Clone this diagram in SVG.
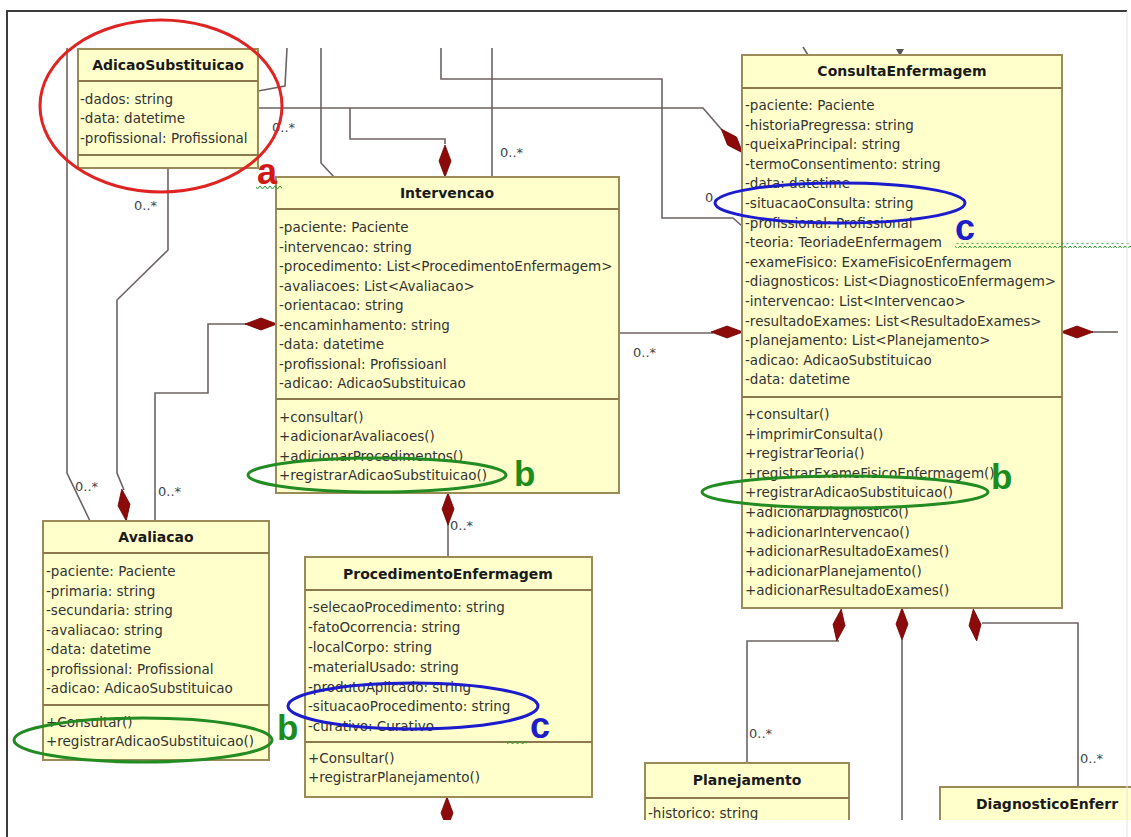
<svg xmlns="http://www.w3.org/2000/svg" width="1131" height="837" viewBox="0 0 1131 837">
<style>
.box{fill:#ffffcc;stroke:#9c8a58;stroke-width:2}
.sep{stroke:#8c7a4c;stroke-width:2}
.t{font-family:"DejaVu Sans",sans-serif;font-size:13.5px;fill:#333}
.h{font-family:"DejaVu Sans",sans-serif;font-weight:bold;font-size:14px;fill:#1a1a1a;text-anchor:middle}
.ln{fill:none;stroke:#6e6262;stroke-width:1.6}
.dm{fill:#8c0a0a;stroke:#700000;stroke-width:0.8}
.m{font-family:"DejaVu Sans",sans-serif;font-size:13px;fill:#444}
.gE{fill:none;stroke:#228b22;stroke-width:3}
.bE{fill:none;stroke:#1c1ccc;stroke-width:3}
.lg{font-family:"Liberation Sans",Arial,sans-serif;font-weight:bold;font-size:35px;fill:#1c8c1c}
.lb{font-family:"Liberation Sans",Arial,sans-serif;font-weight:bold;font-size:36px;fill:#1c1cc8}
</style>
<defs>
<path id="dv" d="M0,-16 L6,0 L0,16 L-6,0 Z"/>
<clipPath id="cp"><rect x="8" y="12" width="1123" height="808"/></clipPath>
<pattern id="sq" width="5" height="5" patternUnits="userSpaceOnUse"><path d="M0,1 L2.5,4 L5,1" fill="none" stroke="#2a9a2a" stroke-width="1"/></pattern>
</defs>
<rect x="0" y="0" width="1131" height="837" fill="#ffffff"/>
<g clip-path="url(#cp)">
<g id="connectors">
<polyline class="ln" points="258,91 285,86 287,48"/>
<polyline class="ln" points="321,48 321,163 334,177"/>
<polyline class="ln" points="258,108 703,108 722,130"/>
<polyline class="ln" points="350,108 350,139 445,139 445,144"/>
<polyline class="ln" points="441,48 441,79 662,79 662,218 733,218 742,226"/>
<polyline class="ln" points="492,48 492,177"/>
<polyline class="ln" points="67,48 67,473 90,521"/>
<polyline class="ln" points="168,168 168,250 117,300 117,473 124,490"/>
<polyline class="ln" points="247,324 208,324 208,393 155,393 155,521"/>
<polyline class="ln" points="619,333 713,333"/>
<polyline class="ln" points="1092,332 1118,332"/>
<polyline class="ln" points="839,641 747,641 747,763"/>
<polyline class="ln" points="902,640 902,820"/>
<polyline class="ln" points="982,623 1078,623 1078,787"/>
<polyline class="ln" points="448,522 448,557"/>
<polyline class="ln" points="447,797 447,837"/>
<polyline class="ln" points="803,47 808,55"/>
<path d="M896,49 L904,49 L900,56 Z" fill="#555"/>
<use href="#dv" class="dm" transform="translate(445,161)"/>
<use href="#dv" class="dm" transform="translate(261,324) rotate(90)"/>
<use href="#dv" class="dm" transform="translate(732,141) rotate(-42)"/>
<use href="#dv" class="dm" transform="translate(727,332) rotate(90)"/>
<use href="#dv" class="dm" transform="translate(1077,332) rotate(90)"/>
<use href="#dv" class="dm" transform="translate(839,625) rotate(8)"/>
<use href="#dv" class="dm" transform="translate(902,624)"/>
<use href="#dv" class="dm" transform="translate(975,625) rotate(-6)"/>
<use href="#dv" class="dm" transform="translate(124,505) rotate(-8)"/>
<use href="#dv" class="dm" transform="translate(448,509)"/>
<use href="#dv" class="dm" transform="translate(447,813)"/>
<text class="m" x="272" y="132">0..*</text>
<text class="m" x="500" y="157">0..*</text>
<text class="m" x="134" y="210">0..*</text>
<text class="m" x="75" y="491">0..*</text>
<text class="m" x="158" y="496">0..*</text>
<text class="m" x="633" y="357">0..*</text>
<text class="m" x="450" y="530">0..*</text>
<text class="m" x="749" y="738">0..*</text>
<text class="m" x="1080" y="763">0..*</text>
<text class="m" x="705" y="202">0.</text>
</g>
<g id="AdicaoSubstituicao">
<rect class="box" x="78" y="49" width="180" height="119"/>
<line class="sep" x1="78" y1="81" x2="258" y2="81"/>
<line class="sep" x1="78" y1="155" x2="258" y2="155"/>
<text class="h" x="168" y="70">AdicaoSubstituicao</text>
<text class="t" x="80" y="104">-dados: string</text>
<text class="t" x="80" y="123">-data: datetime</text>
<text class="t" x="80" y="143">-profissional: Profissional</text>
</g>
<g id="Intervencao">
<rect class="box" x="276" y="177" width="343" height="316"/>
<line class="sep" x1="276" y1="209" x2="619" y2="209"/>
<line class="sep" x1="276" y1="399" x2="619" y2="399"/>
<text class="h" x="447" y="198">Intervencao</text>
<text class="t" x="279" y="232">-paciente: Paciente</text>
<text class="t" x="279" y="251.5">-intervencao: string</text>
<text class="t" x="279" y="271">-procedimento: List&lt;ProcedimentoEnfermagem&gt;</text>
<text class="t" x="279" y="290.5">-avaliacoes: List&lt;Avaliacao&gt;</text>
<text class="t" x="279" y="310">-orientacao: string</text>
<text class="t" x="279" y="329.5">-encaminhamento: string</text>
<text class="t" x="279" y="349">-data: datetime</text>
<text class="t" x="279" y="368.5">-profissional: Profissioanl</text>
<text class="t" x="279" y="388">-adicao: AdicaoSubstituicao</text>
<text class="t" x="279" y="422">+consultar()</text>
<text class="t" x="279" y="441">+adicionarAvaliacoes()</text>
<text class="t" x="279" y="461">+adicionarProcedimentos()</text>
<text class="t" x="279" y="480">+registrarAdicaoSubstituicao()</text>
</g>
<g id="ConsultaEnfermagem">
<rect class="box" x="742" y="55" width="320" height="553"/>
<line class="sep" x1="742" y1="88" x2="1062" y2="88"/>
<line class="sep" x1="742" y1="397" x2="1062" y2="397"/>
<text class="h" x="902" y="76">ConsultaEnfermagem</text>
<text class="t" x="745" y="110">-paciente: Paciente</text>
<text class="t" x="745" y="129.6">-historiaPregressa: string</text>
<text class="t" x="745" y="149.2">-queixaPrincipal: string</text>
<text class="t" x="745" y="168.8">-termoConsentimento: string</text>
<text class="t" x="745" y="188.4">-data: datetime</text>
<text class="t" x="745" y="208">-situacaoConsulta: string</text>
<text class="t" x="745" y="227.6">-profissional: Profissional</text>
<text class="t" x="745" y="247.2">-teoria: TeoriadeEnfermagem</text>
<text class="t" x="745" y="266.8">-exameFisico: ExameFisicoEnfermagem</text>
<text class="t" x="745" y="286.4">-diagnosticos: List&lt;DiagnosticoEnfermagem&gt;</text>
<text class="t" x="745" y="306">-intervencao: List&lt;Intervencao&gt;</text>
<text class="t" x="745" y="325.6">-resultadoExames: List&lt;ResultadoExames&gt;</text>
<text class="t" x="745" y="345.2">-planejamento: List&lt;Planejamento&gt;</text>
<text class="t" x="745" y="364.8">-adicao: AdicaoSubstituicao</text>
<text class="t" x="745" y="384.4">-data: datetime</text>
<text class="t" x="745" y="419">+consultar()</text>
<text class="t" x="745" y="438.6">+imprimirConsulta()</text>
<text class="t" x="745" y="458.2">+registrarTeoria()</text>
<text class="t" x="745" y="477.8">+registrarExameFisicoEnfermagem()</text>
<text class="t" x="745" y="497.4">+registrarAdicaoSubstituicao()</text>
<text class="t" x="745" y="517">+adicionarDiagnostico()</text>
<text class="t" x="745" y="536.6">+adicionarIntervencao()</text>
<text class="t" x="745" y="556.2">+adicionarResultadoExames()</text>
<text class="t" x="745" y="575.8">+adicionarPlanejamento()</text>
<text class="t" x="745" y="595.4">+adicionarResultadoExames()</text>
</g>
<g id="Avaliacao">
<rect class="box" x="43" y="521" width="226" height="239"/>
<line class="sep" x1="43" y1="553" x2="269" y2="553"/>
<line class="sep" x1="43" y1="705" x2="269" y2="705"/>
<text class="h" x="156" y="542">Avaliacao</text>
<text class="t" x="46" y="576">-paciente: Paciente</text>
<text class="t" x="46" y="595.5">-primaria: string</text>
<text class="t" x="46" y="615">-secundaria: string</text>
<text class="t" x="46" y="634.5">-avaliacao: string</text>
<text class="t" x="46" y="654">-data: datetime</text>
<text class="t" x="46" y="673.5">-profissional: Profissional</text>
<text class="t" x="46" y="693">-adicao: AdicaoSubstituicao</text>
<text class="t" x="46" y="727">+Consultar()</text>
<text class="t" x="46" y="746">+registrarAdicaoSubstituicao()</text>
</g>
<g id="ProcedimentoEnfermagem">
<rect class="box" x="305" y="557" width="287" height="240"/>
<line class="sep" x1="305" y1="590" x2="592" y2="590"/>
<line class="sep" x1="305" y1="742" x2="592" y2="742"/>
<text class="h" x="448" y="579">ProcedimentoEnfermagem</text>
<text class="t" x="308" y="612">-selecaoProcedimento: string</text>
<text class="t" x="308" y="632">-fatoOcorrencia: string</text>
<text class="t" x="308" y="652">-localCorpo: string</text>
<text class="t" x="308" y="672">-materialUsado: string</text>
<text class="t" x="308" y="692">-produtoAplicado: string</text>
<text class="t" x="308" y="711">-situacaoProcedimento: string</text>
<text class="t" x="308" y="731">-curativo: Curativo</text>
<text class="t" x="308" y="763">+Consultar()</text>
<text class="t" x="308" y="782">+registrarPlanejamento()</text>
</g>
<g id="Planejamento">
<rect class="box" x="645" y="763" width="204" height="80"/>
<line class="sep" x1="645" y1="798" x2="849" y2="798"/>
<text class="h" x="747" y="785">Planejamento</text>
<text class="t" x="648" y="818">-historico: string</text>
</g>
<g id="DiagnosticoEnfermagem">
<rect class="box" x="940" y="787" width="220" height="60"/>
<line class="sep" x1="940" y1="822" x2="1160" y2="822"/>
<text class="h" x="976" y="809" style="text-anchor:start">DiagnosticoEnferr</text>
</g>
<g id="annotations">
<ellipse cx="161" cy="106" rx="121" ry="86" fill="none" stroke="#e02424" stroke-width="3"/>
<text x="257" y="184" style="font-family:'Liberation Sans',Arial,sans-serif;font-weight:bold;font-size:36px;fill:#d01818">a</text>
<rect x="256" y="185" width="26" height="5" fill="url(#sq)"/>
<ellipse class="gE" cx="377" cy="475" rx="129" ry="17"/>
<text class="lg" x="514" y="486">b</text>
<ellipse class="gE" cx="845" cy="492" rx="143" ry="16"/>
<text class="lg" x="991" y="489">b</text>
<ellipse class="gE" cx="143" cy="740" rx="129" ry="22"/>
<text class="lg" x="277" y="740">b</text>
<ellipse class="bE" cx="840" cy="203" rx="125" ry="20"/>
<text class="lb" x="955" y="240">c</text>
<rect x="955" y="243" width="176" height="5" fill="url(#sq)"/>
<ellipse class="bE" cx="413" cy="706" rx="125" ry="23"/>
<text class="lb" x="530" y="738">c</text>
<rect x="507" y="740" width="20" height="5" fill="url(#sq)"/>
</g>
</g>
<g id="frame">
<polyline points="7,846 7,11 1127,11" fill="none" stroke="#3c3c3c" stroke-width="2"/>
<line x1="1127" y1="11" x2="1127" y2="837" stroke="#e4e4e4" stroke-width="1"/>
</g>
</svg>
